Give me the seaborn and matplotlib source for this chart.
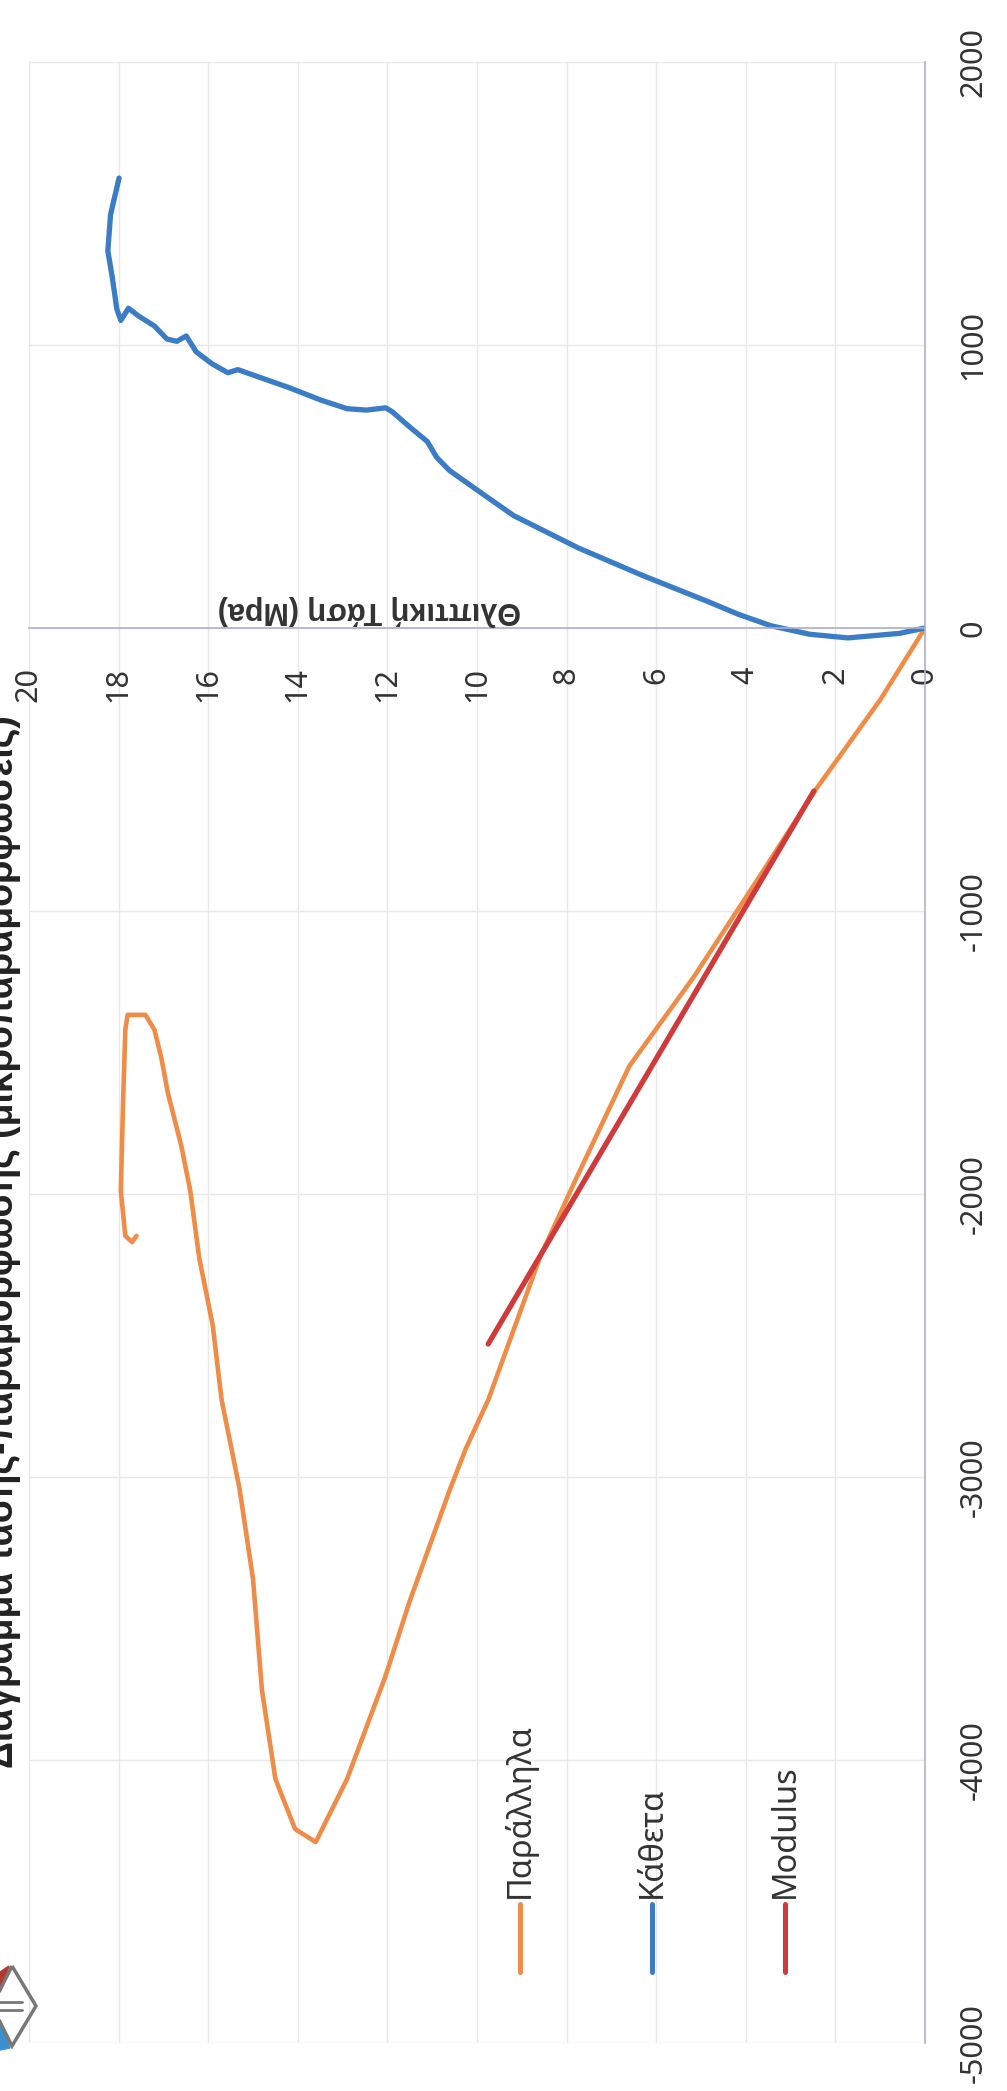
#!/usr/bin/env python3
# -*- coding: utf-8 -*-
"""
Διάγραμμα τάσης - παραμόρφωσης (σαρωμένη σελίδα, περιστραμμένη 90°)
"""

import matplotlib
matplotlib.use('Agg')
import matplotlib.pyplot as plt
from matplotlib.lines import Line2D
from matplotlib.patches import Polygon
import seaborn as sns

# Παράλληλα: μικροπαραμορφώσεις / τάση (MPa)
strain_par = [0, -254, -569, -887, -1233, -1548, -1950, -2226, -2728, -2900,
              -3042, -3438, -3707, -4067, -4290, -4244, -4067, -3753, -3360,
              -3042, -2728, -2463, -2226, -1989, -1830, -1643, -1516, -1420,
              -1367, -1367, -1420, -1675, -1989, -2148, -2170, -2148]
stress_par = [0, 1.0, 2.43, 3.73, 5.16, 6.6, 7.8, 8.6, 9.75, 10.25,
              10.6, 11.5, 12.05, 12.9, 13.6, 14.06, 14.5, 14.8, 15.0,
              15.3, 15.7, 15.9, 16.2, 16.4, 16.6, 16.9, 17.05, 17.2,
              17.4, 17.8, 17.85, 17.9, 17.95, 17.85, 17.7, 17.6]

# Κάθετα
strain_kath = [0, -19, -35, -22, 8, 48, 95, 186, 283, 397, 460, 556, 603, 659,
               706, 765, 778, 770, 775, 805, 849, 889, 913, 902, 933, 976, 1032,
               1013, 1021, 1067, 1103, 1130, 1087, 1127, 1238, 1333, 1460, 1590]
stress_kath = [0, 0.57, 1.72, 2.58, 3.44, 4.16, 4.87, 6.31, 7.74, 9.18, 9.75,
               10.61, 10.9, 11.11, 11.47, 11.9, 12.04, 12.47, 12.9, 13.48, 14.19,
               14.91, 15.34, 15.56, 15.91, 16.27, 16.49, 16.7, 16.92, 17.2, 17.56,
               17.78, 17.95, 18.04, 18.14, 18.24, 18.18, 17.99]

# Modulus
strain_mod = [-576, -2530]
stress_mod = [2.48, 9.75]

stress_ticks = [0, 2, 4, 6, 8, 10, 12, 14, 16, 18, 20]
strain_ticks = [-5000, -4000, -3000, -2000, -1000, 0, 1000, 2000]

series_names = ['Παράλληλα', 'Κάθετα', 'Modulus']
colors = ['#EE8C48', '#3B7CC6', '#D03A3A']

chart_title = 'Διάγραμμα τάσης-παραμόρφωσης (μικροπαραμορφώσεις)'
stress_label = 'Θλιπτική Τάση (Mpa)'

sns.set_theme(style='white')
plt.rcParams['font.family'] = ['Noto Sans', 'DejaVu Sans']
plt.rcParams['axes.unicode_minus'] = False
bold_font = ['Liberation Sans', 'DejaVu Sans']

W, H = 1007, 2091
fig = plt.figure(figsize=(W / 100, H / 100), dpi=100)
fig.patch.set_facecolor('white')

# άξονες: τάση οριζόντια (αντεστραμμένη), παραμόρφωση κάθετα
ax = fig.add_axes([29 / W, 1 - 2043 / H, (925 - 29) / W, (2043 - 62) / H])

sns.lineplot(x=stress_par, y=strain_par, sort=False, estimator=None, ax=ax,
             color=colors[0], linewidth=3.3)
sns.lineplot(x=stress_kath, y=strain_kath, sort=False, estimator=None, ax=ax,
             color=colors[1], linewidth=3.8)
sns.lineplot(x=stress_mod, y=strain_mod, sort=False, estimator=None, ax=ax,
             color=colors[2], linewidth=3.8)

for side in ['left', 'top']:
    ax.spines[side].set_visible(False)
ax.spines['bottom'].set_position(('data', 0))
for side in ['right', 'bottom']:
    ax.spines[side].set_color('#aeb0cc')
    ax.spines[side].set_linewidth(1.2)

ax.set_xlim(20, 0)
ax.set_ylim(-5000, 2000)
ax.set_xticks(stress_ticks)
ax.set_yticks(strain_ticks)
ax.set_xlabel('')
ax.set_ylabel('')
ax.grid(True, color='#e8e8e8', linewidth=1)
ax.set_axisbelow(True)

ax.yaxis.tick_right()
ax.tick_params(axis='y', length=0, pad=24, labelsize=22, labelrotation=90,
               labelcolor='#333333')
ax.tick_params(axis='x', length=0, pad=28, labelsize=22, labelrotation=90,
               labelcolor='#333333')
for lab in ax.get_yticklabels():
    lab.set_va('center')

# τίτλος άξονα τάσης (ανάποδα)
fig.text(369 / W, 1 - 610 / H, stress_label, rotation=180, ha='center', va='center',
         fontsize=22, fontweight='bold', color='#333333', family=bold_font)

# τίτλος (κομμένος στην άκρη της σελίδας)
fig.text(3 / W, 1 - 1768 / H, chart_title, rotation=90, ha='center', va='bottom',
         fontsize=27, fontweight='bold', color='#222222', family=bold_font)

# υπόμνημα
legend_x = [520, 652, 785]
for name, col, lx in zip(series_names, colors, legend_x):
    fig.add_artist(Line2D([lx / W, lx / W], [1 - 1972 / H, 1 - 1904 / H],
                          color=col, linewidth=3.6, solid_capstyle='round'))
    fig.text(lx / W, 1 - 1898 / H, name, rotation=90, ha='center', va='bottom',
             fontsize=23.5, color='#333333')

# λογότυπο
def px(x, y):
    return (x / W, 1 - y / H)

fig.add_artist(Polygon([px(0, 1972), px(9, 1966), px(0, 1992)], closed=True,
                       transform=fig.transFigure, color='#b03a32'))
fig.add_artist(Polygon([px(0, 2020), px(10, 2048), px(0, 2050)], closed=True,
                       transform=fig.transFigure, color='#3a8fd0'))
fig.add_artist(Polygon([px(12, 1966), px(36, 2006), px(12, 2046), px(-8, 2006)],
                       closed=True, fill=False, transform=fig.transFigure,
                       edgecolor='#777777', linewidth=2.5))
fig.add_artist(Line2D([0, 22 / W], [1 - 2002 / H, 1 - 2002 / H], color='#777777', linewidth=2))
fig.add_artist(Line2D([0, 22 / W], [1 - 2010 / H, 1 - 2010 / H], color='#777777', linewidth=2))

fig.savefig('out.png', dpi=100, facecolor='white')
print('saved out.png')
